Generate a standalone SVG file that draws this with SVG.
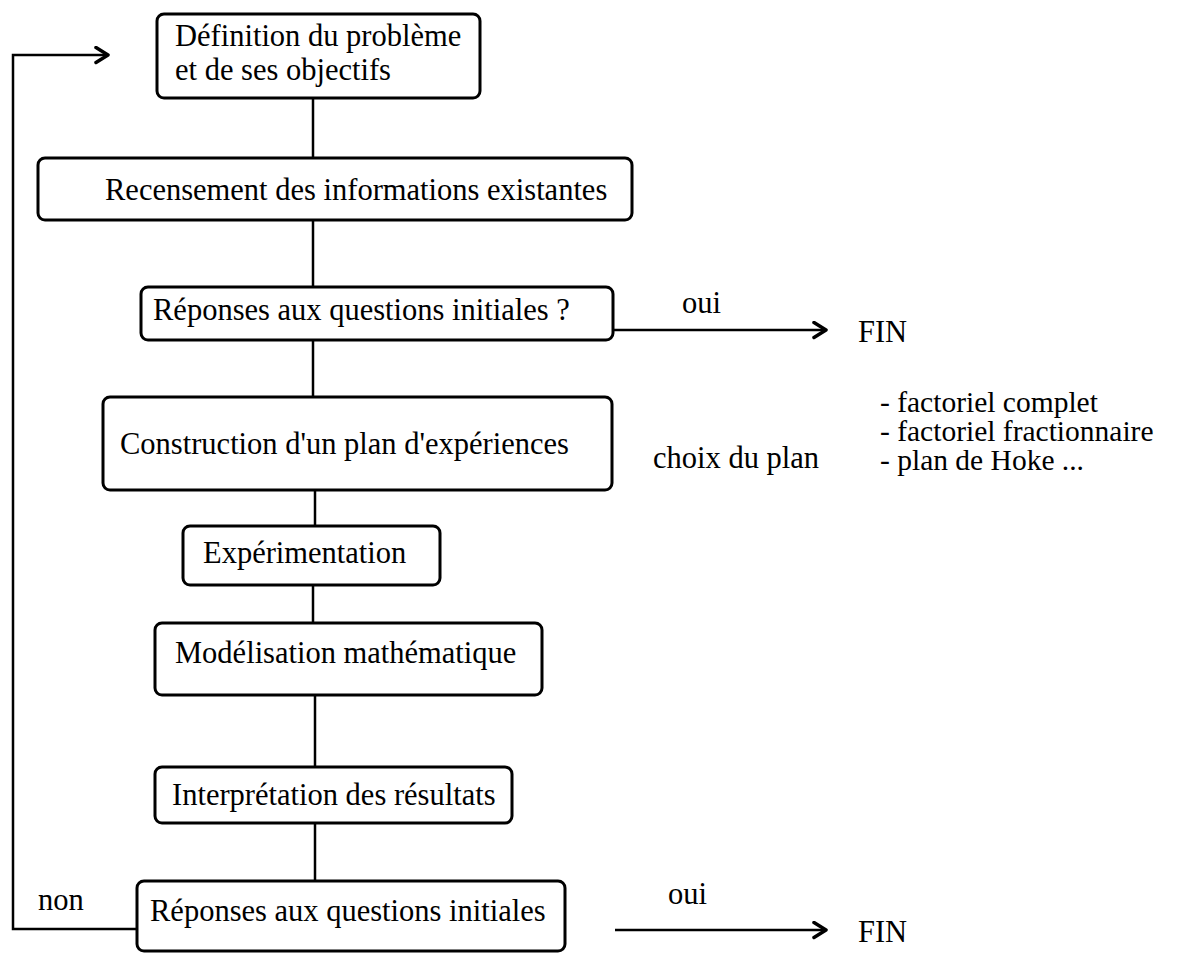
<svg xmlns="http://www.w3.org/2000/svg" width="1189" height="955" viewBox="0 0 1189 955">
<style>
.box{fill:none;stroke:#000;stroke-width:3}
.ln{fill:none;stroke:#000;stroke-width:2.5}
text{font-family:"Liberation Serif","Times New Roman",serif;font-size:30.5px;fill:#000}
.lst{font-size:29.5px}
</style>
<defs>
<marker id="ah" markerUnits="userSpaceOnUse" markerWidth="22" markerHeight="22" refX="15" refY="9" orient="auto">
<path d="M3,1.5 L15,9 L3,16.5" fill="none" stroke="#000" stroke-width="3.5" stroke-linejoin="round" stroke-linecap="round"/>
</marker>
</defs>
<rect width="1189" height="955" fill="#fff"/>
<g id="connectors">
<path class="ln" d="M137,929 H13 V55 H108" marker-end="url(#ah)"/>
<line class="ln" x1="313" y1="98" x2="313" y2="158"/>
<line class="ln" x1="313" y1="220" x2="313" y2="287"/>
<line class="ln" x1="313" y1="340" x2="313" y2="397"/>
<line class="ln" x1="315" y1="490" x2="315" y2="526"/>
<line class="ln" x1="313" y1="585" x2="313" y2="623"/>
<line class="ln" x1="315" y1="695" x2="315" y2="767"/>
<line class="ln" x1="315" y1="823" x2="315" y2="881"/>
<line class="ln" x1="613" y1="330" x2="826" y2="330" marker-end="url(#ah)"/>
<line class="ln" x1="615" y1="930" x2="826" y2="930" marker-end="url(#ah)"/>
</g>
<g id="n1"><rect class="box" x="157" y="14" width="323" height="84" rx="7"/><text x="175" y="46">Définition du problème</text><text x="175" y="80">et de ses objectifs</text></g>
<g id="n2"><rect class="box" x="38" y="158" width="594" height="62" rx="7"/><text x="105" y="200">Recensement des informations existantes</text></g>
<g id="n3"><rect class="box" x="141" y="287" width="472" height="53" rx="7"/><text x="153" y="320">Réponses aux questions initiales ?</text></g>
<g id="oui1"><text x="682" y="313">oui</text></g>
<g id="fin1"><text x="858" y="342">FIN</text></g>
<g id="n4"><rect class="box" x="103" y="397" width="509" height="93" rx="7"/><text x="120" y="454">Construction d'un plan d'expériences</text></g>
<g id="choix"><text x="653" y="468">choix du plan</text></g>
<g id="liste"><text class="lst" x="880" y="412">- factoriel complet</text><text class="lst" x="880" y="441">- factoriel fractionnaire</text><text class="lst" x="880" y="470">- plan de Hoke ...</text></g>
<g id="n5"><rect class="box" x="183" y="526" width="257" height="59" rx="7"/><text x="203" y="563">Expérimentation</text></g>
<g id="n6"><rect class="box" x="155" y="623" width="387" height="72" rx="7"/><text x="175" y="663">Modélisation mathématique</text></g>
<g id="n7"><rect class="box" x="155" y="767" width="357" height="56" rx="7"/><text x="172" y="805">Interprétation des résultats</text></g>
<g id="n8"><rect class="box" x="137" y="881" width="428" height="70" rx="7"/><text x="150" y="921">Réponses aux questions initiales</text></g>
<g id="non"><text x="38" y="910">non</text></g>
<g id="oui2"><text x="668" y="904">oui</text></g>
<g id="fin2"><text x="858" y="942">FIN</text></g>
</svg>
